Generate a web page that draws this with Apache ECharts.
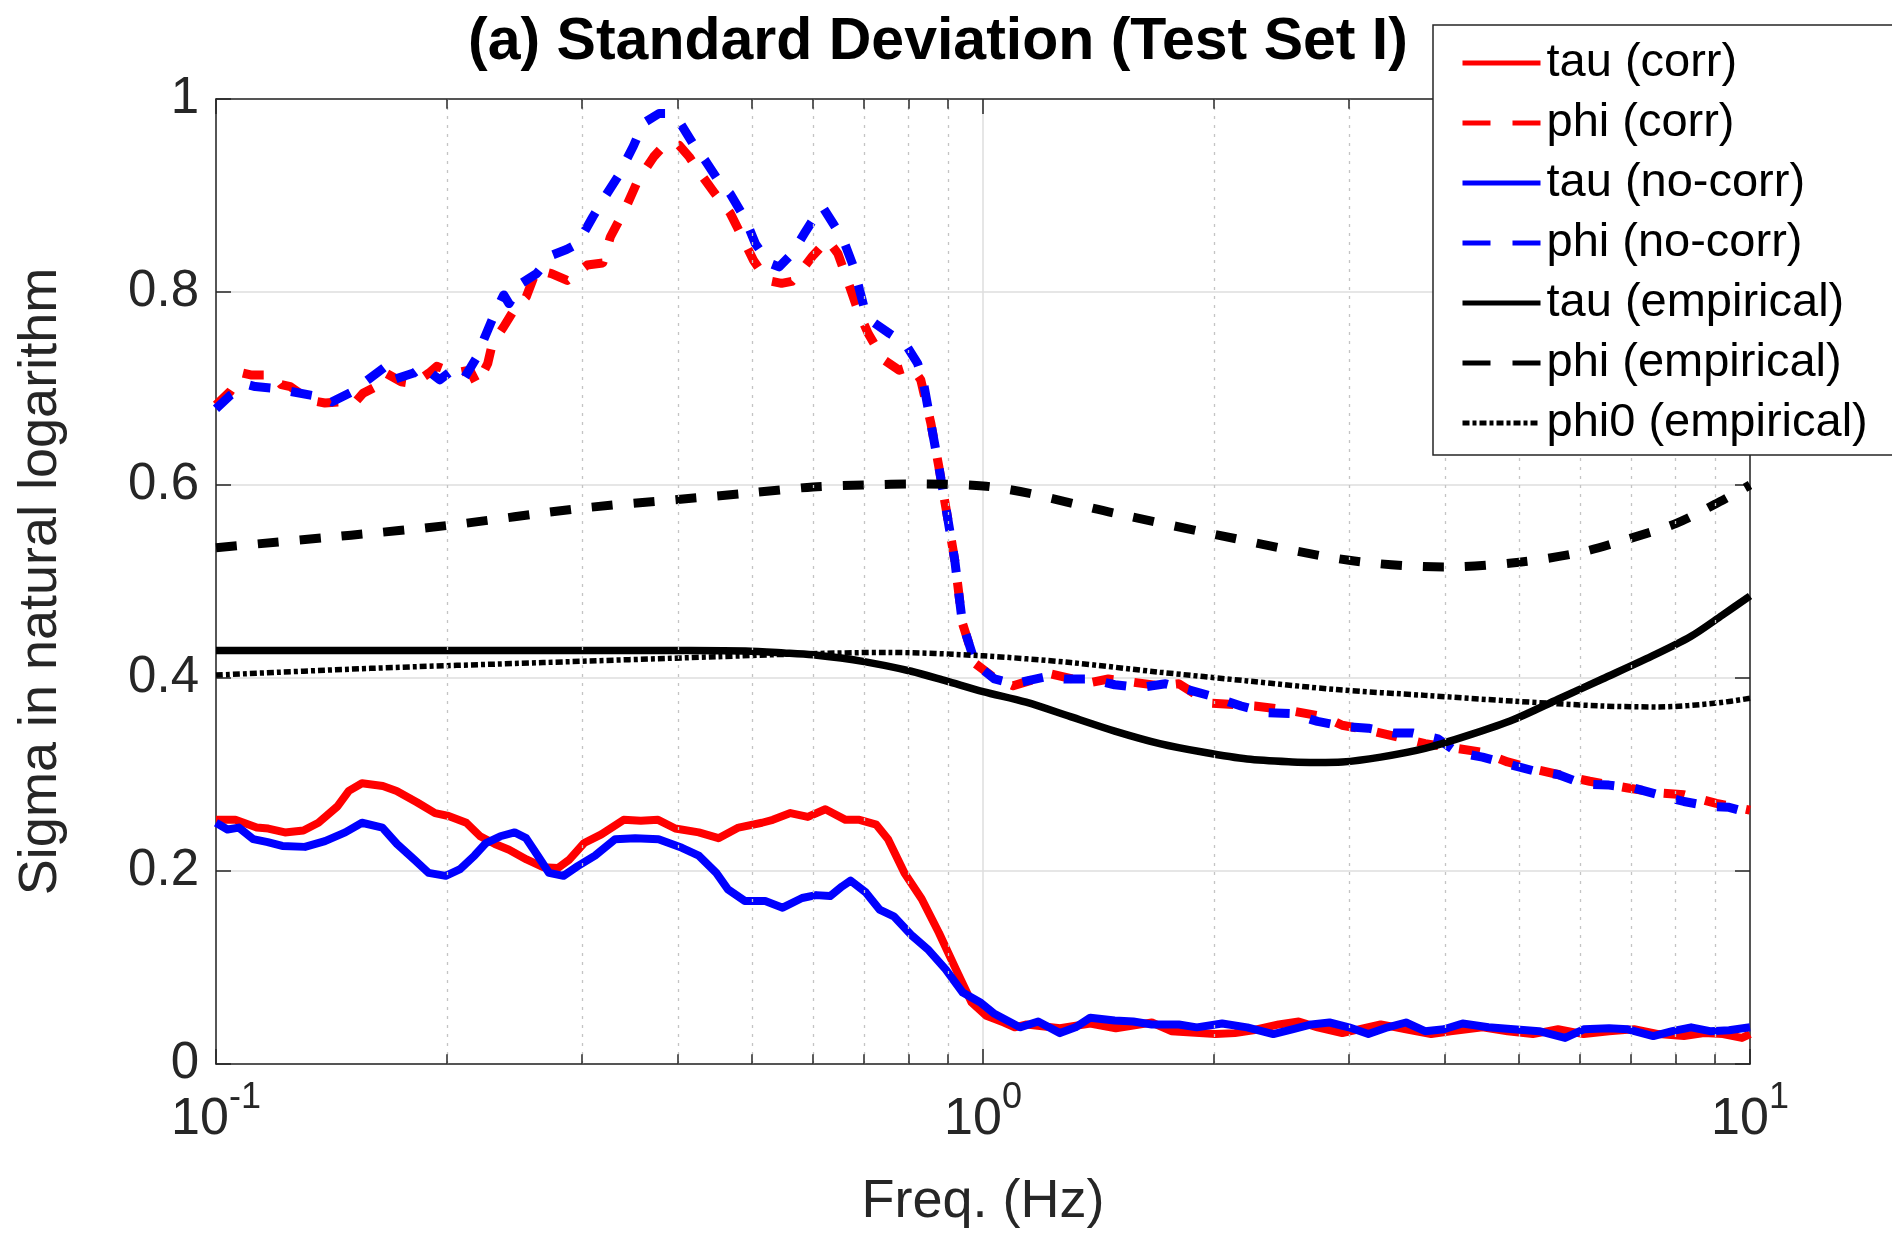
<!DOCTYPE html>
<html><head><meta charset="utf-8">
<script src="https://cdn.jsdelivr.net/npm/echarts@6/dist/echarts.min.js"></script>
<style>html,body{margin:0;padding:0;background:#fff}#c{width:1892px;height:1236px}</style>
</head><body><div id="c"></div>
<script>
// ---------- data ----------
const titleText = '(a) Standard Deviation (Test Set I)';
const xName = 'Freq. (Hz)';
const yName = 'Sigma in natural logarithm';
const xMinorTicks = [0.2, 0.3, 0.4, 0.5, 0.6, 0.7, 0.8, 0.9, 2, 3, 4, 5, 6, 7, 8, 9];
const seriesNames = ['tau (corr)', 'phi (corr)', 'tau (no-corr)', 'phi (no-corr)', 'tau (empirical)', 'phi (empirical)', 'phi0 (empirical)'];

const tauCorr = [[0.1,0.253],[0.106,0.253],[0.113,0.245],[0.117,0.244],[0.123,0.240],[0.130,0.242],[0.136,0.250],[0.144,0.267],[0.149,0.283],[0.155,0.291],[0.165,0.288],[0.172,0.283],[0.183,0.271],[0.193,0.260],[0.201,0.257],[0.212,0.250],[0.221,0.236],[0.231,0.228],[0.241,0.222],[0.254,0.212],[0.267,0.204],[0.279,0.203],[0.289,0.212],[0.302,0.229],[0.318,0.238],[0.340,0.253],[0.358,0.252],[0.377,0.253],[0.397,0.244],[0.426,0.240],[0.452,0.234],[0.480,0.245],[0.515,0.250],[0.532,0.253],[0.561,0.260],[0.591,0.256],[0.623,0.264],[0.662,0.253],[0.690,0.253],[0.726,0.248],[0.752,0.233],[0.790,0.198],[0.832,0.171],[0.876,0.136],[0.922,0.098],[0.966,0.064],[1.01,0.050],[1.065,0.043],[1.10,0.038],[1.14,0.041],[1.26,0.037],[1.38,0.042],[1.49,0.037],[1.66,0.043],[1.76,0.034],[2.01,0.031],[2.13,0.032],[2.25,0.035],[2.43,0.041],[2.58,0.044],[2.73,0.038],[2.94,0.032],[3.3,0.041],[3.56,0.036],[3.84,0.031],[4.07,0.034],[4.48,0.038],[4.83,0.034],[5.21,0.031],[5.62,0.036],[6.07,0.031],[6.55,0.034],[7.06,0.036],[7.6,0.031],[8.2,0.029],[8.71,0.032],[9.22,0.031],[9.76,0.027],[10,0.031]];

const phiCorr = [[0.1,0.683],[0.1044,0.697],[0.1084,0.716],[0.111,0.714],[0.119,0.714],[0.1217,0.704],[0.125,0.702],[0.1324,0.688],[0.1387,0.685],[0.1446,0.686],[0.1508,0.683],[0.1555,0.695],[0.1616,0.702],[0.1665,0.716],[0.1744,0.707],[0.181,0.705],[0.1895,0.716],[0.194,0.723],[0.2048,0.716],[0.2143,0.719],[0.219,0.704],[0.2261,0.726],[0.2293,0.747],[0.2372,0.764],[0.2445,0.781],[0.2538,0.795],[0.2618,0.823],[0.2738,0.819],[0.287,0.812],[0.3048,0.828],[0.3193,0.830],[0.3267,0.857],[0.3425,0.888],[0.355,0.916],[0.372,0.940],[0.386,0.954],[0.4016,0.952],[0.414,0.940],[0.4306,0.920],[0.4472,0.902],[0.468,0.882],[0.4824,0.861],[0.502,0.833],[0.5227,0.812],[0.5462,0.809],[0.5632,0.811],[0.5809,0.823],[0.5992,0.837],[0.6268,0.854],[0.6467,0.840],[0.6659,0.812],[0.6868,0.781],[0.7085,0.757],[0.7416,0.730],[0.7776,0.719],[0.8062,0.723],[0.8295,0.709],[0.8551,0.664],[0.8758,0.619],[0.897,0.571],[0.9187,0.522],[0.94,0.457],[0.977,0.415],[1.035,0.400],[1.095,0.392],[1.228,0.404],[1.376,0.395],[1.457,0.399],[1.70,0.392],[1.80,0.394],[1.975,0.374],[2.26,0.371],[2.48,0.367],[2.78,0.360],[2.94,0.351],[3.18,0.346],[3.77,0.332],[4.15,0.327],[4.48,0.323],[4.83,0.313],[5.21,0.306],[5.62,0.300],[6.18,0.293],[6.93,0.286],[7.6,0.281],[8.2,0.279],[9.04,0.270],[10,0.263]];

const tauNoCorr = [[0.1,0.250],[0.1035,0.243],[0.1071,0.245],[0.1118,0.233],[0.1168,0.230],[0.122,0.226],[0.1306,0.225],[0.1387,0.231],[0.1474,0.240],[0.155,0.250],[0.1648,0.245],[0.1722,0.228],[0.1813,0.212],[0.1893,0.198],[0.1993,0.195],[0.2081,0.202],[0.2173,0.216],[0.2249,0.229],[0.2348,0.236],[0.2451,0.240],[0.2537,0.234],[0.2626,0.216],[0.2718,0.198],[0.2838,0.195],[0.2962,0.205],[0.312,0.216],[0.3315,0.233],[0.352,0.234],[0.3776,0.233],[0.405,0.224],[0.426,0.216],[0.449,0.198],[0.465,0.181],[0.489,0.169],[0.52,0.169],[0.548,0.162],[0.581,0.172],[0.606,0.175],[0.632,0.174],[0.655,0.184],[0.672,0.190],[0.703,0.178],[0.733,0.160],[0.765,0.153],[0.808,0.133],[0.847,0.119],[0.894,0.098],[0.941,0.074],[0.991,0.064],[1.035,0.052],[1.117,0.038],[1.18,0.044],[1.26,0.032],[1.32,0.038],[1.38,0.048],[1.485,0.045],[1.57,0.044],[1.66,0.041],[1.8,0.041],[1.9,0.038],[2.05,0.042],[2.21,0.038],[2.39,0.031],[2.53,0.036],[2.68,0.041],[2.83,0.043],[3.0,0.038],[3.18,0.031],[3.37,0.038],[3.56,0.043],[3.77,0.034],[3.99,0.036],[4.22,0.042],[4.56,0.038],[4.92,0.036],[5.31,0.034],[5.74,0.027],[6.07,0.036],[6.55,0.037],[6.93,0.036],[7.48,0.029],[7.92,0.034],[8.38,0.038],[8.87,0.034],[9.39,0.035],[10,0.038]];

const phiNoCorr = [[0.1,0.679],[0.1044,0.693],[0.1101,0.704],[0.1125,0.702],[0.1198,0.700],[0.125,0.697],[0.1374,0.691],[0.1415,0.686],[0.1508,0.697],[0.1565,0.707],[0.1665,0.723],[0.170,0.709],[0.181,0.716],[0.186,0.723],[0.1957,0.709],[0.2048,0.721],[0.2111,0.712],[0.219,0.733],[0.2243,0.754],[0.231,0.778],[0.2372,0.797],[0.241,0.788],[0.2501,0.809],[0.2618,0.819],[0.2738,0.838],[0.2864,0.844],[0.2961,0.850],[0.31,0.878],[0.3193,0.895],[0.3344,0.920],[0.35,0.951],[0.3607,0.975],[0.3781,0.985],[0.39,0.985],[0.4016,0.977],[0.4206,0.951],[0.4337,0.937],[0.454,0.913],[0.468,0.902],[0.4903,0.875],[0.505,0.850],[0.526,0.830],[0.5422,0.826],[0.564,0.840],[0.5852,0.861],[0.6038,0.878],[0.6181,0.888],[0.6376,0.871],[0.6575,0.854],[0.6781,0.826],[0.6993,0.785],[0.7212,0.768],[0.7552,0.757],[0.7909,0.747],[0.8217,0.726],[0.8349,0.709],[0.8551,0.664],[0.8758,0.619],[0.897,0.571],[0.9187,0.522],[0.94,0.457],[0.977,0.415],[1.035,0.399],[1.095,0.394],[1.205,0.401],[1.276,0.399],[1.376,0.399],[1.485,0.393],[1.6,0.390],[1.73,0.394],[1.87,0.387],[2.01,0.380],[2.17,0.371],[2.34,0.364],[2.53,0.363],[2.73,0.355],[2.94,0.350],[3.18,0.348],[3.43,0.343],[3.63,0.343],[3.92,0.337],[4.15,0.323],[4.48,0.318],[4.83,0.311],[5.21,0.304],[5.62,0.300],[6.07,0.290],[6.55,0.289],[7.06,0.286],[7.6,0.279],[8.2,0.272],[8.87,0.267],[9.39,0.266],[10,0.260]];

const tauEmp = [[0.1,0.4286],[0.2,0.4286],[0.3,0.4286],[0.4,0.4285],[0.49,0.428],[0.55,0.426],[0.6,0.424],[0.7,0.417],[0.806,0.407],[0.895,0.397],[1.0,0.386],[1.138,0.375],[1.3,0.360],[1.485,0.345],[1.7,0.332],[1.94,0.323],[2.21,0.316],[2.53,0.313],[2.73,0.3125],[2.94,0.313],[3.3,0.318],[3.77,0.327],[4.31,0.341],[4.92,0.357],[5.62,0.378],[6.42,0.399],[7.33,0.420],[8.37,0.443],[9.2,0.465],[10,0.485]];

const phiEmp = [[0.1,0.535],[0.15,0.548],[0.2,0.558],[0.3,0.576],[0.4,0.585],[0.5,0.592],[0.6,0.598],[0.7,0.600],[0.8,0.601],[1.0,0.599],[1.5,0.570],[2,0.549],[3,0.522],[4,0.515],[5,0.520],[6,0.530],[7,0.545],[8,0.560],[9,0.580],[10,0.600]];

const phi0Emp = [[0.1,0.403],[0.159,0.410],[0.267,0.416],[0.448,0.422],[0.58,0.425],[0.75,0.4265],[1.0,0.423],[1.3,0.416],[1.7,0.406],[2.21,0.397],[2.89,0.388],[3.77,0.382],[4.92,0.376],[6.42,0.371],[7.6,0.370],[9.04,0.374],[10,0.379]];

// ---------- styling ----------
const FONT = "'Liberation Sans', Arial, Helvetica, sans-serif";
const AX = '#262626';
const RED = '#ff0000', BLUE = '#0000ff', BLACK = '#000000';
const DASH = [21, 21];
const DASHDOT = [7, 3, 4, 3];

function line(name, data, color, width, type, smooth) {
  return {
    name, type: 'line', data, xAxisIndex: 0, yAxisIndex: 0,
    symbol: 'none', showSymbol: false, smooth: smooth || false,
    lineStyle: { color, width, type, cap: 'butt', join: 'round' },
    itemStyle: { color },
    emphasis: { disabled: true }, silent: true, z: 3
  };
}

const chart = echarts.init(document.getElementById('c'), null, { renderer: 'canvas' });

const option = {
  animation: false,
  backgroundColor: '#ffffff',
  textStyle: { fontFamily: FONT },
  grid: { left: 216, right: 142, top: 99, bottom: 172, containLabel: false },
  graphic: [{
    type: 'text', x: 938, y: 43, z: 100,
    style: { text: titleText, font: 'bold 59px ' + FONT, fill: '#000', textAlign: 'center', textVerticalAlign: 'middle' }
  }],
  xAxis: [{
    type: 'log', logBase: 10, min: 0.1, max: 10, position: 'bottom',
    name: xName, nameLocation: 'middle', nameGap: 111,
    nameTextStyle: { fontSize: 54, color: AX, fontFamily: FONT },
    axisLine: { show: true, onZero: false, lineStyle: { color: AX, width: 1.5 } },
    axisTick: { show: true, inside: true, length: 15, lineStyle: { color: AX, width: 1.5 } },
    axisLabel: {
      margin: 24, color: AX,
      formatter: v => '{b|10}{s|' + Math.round(Math.log10(v)) + '}',
      rich: {
        b: { fontSize: 52, fontFamily: FONT, color: AX, lineHeight: 58, verticalAlign: 'bottom' },
        s: { fontSize: 36, fontFamily: FONT, color: AX, lineHeight: 36, verticalAlign: 'bottom', padding: [0, 0, 30, 0] }
      }
    },
    splitLine: { show: true, lineStyle: { color: '#dedede', width: 1.5 } }
  }, {
    type: 'log', logBase: 10, min: 0.1, max: 10, position: 'top',
    axisLine: { show: true, onZero: false, lineStyle: { color: AX, width: 1.5 } },
    axisTick: { show: true, inside: true, length: 15, lineStyle: { color: AX, width: 1.5 } },
    axisLabel: { show: false }, splitLine: { show: false }
  }],
  yAxis: [{
    type: 'value', min: 0, max: 1, interval: 0.2, position: 'left',
    name: yName, nameLocation: 'middle', nameGap: 148,
    nameTextStyle: { fontSize: 54, color: AX, fontFamily: FONT },
    axisLine: { show: true, onZero: false, lineStyle: { color: AX, width: 1.5 } },
    axisTick: { show: true, inside: true, length: 15, lineStyle: { color: AX, width: 1.5 } },
    axisLabel: { fontSize: 51, color: AX, margin: 17, fontFamily: FONT },
    splitLine: { show: true, lineStyle: { color: '#dedede', width: 1.5 } }
  }, {
    type: 'value', min: 0, max: 1, interval: 0.2, position: 'right',
    axisLine: { show: true, onZero: false, lineStyle: { color: AX, width: 1.5 } },
    axisTick: { show: true, inside: true, length: 15, lineStyle: { color: AX, width: 1.5 } },
    axisLabel: { show: false }, splitLine: { show: false }
  }],
  legend: {
    data: seriesNames.map((n, i) => ({
      name: n,
      lineStyle: (i === 1 || i === 3 || i === 5) ? { type: [28, 22] } : undefined
    })),
    orient: 'vertical', left: 1433, top: 25,
    padding: [8, 29, 2, 27], itemGap: 0,
    itemWidth: 78, itemHeight: 2,
    backgroundColor: '#ffffff', borderColor: AX, borderWidth: 1.5, borderRadius: 0,
    lineStyle: { width: 5 },
    itemStyle: { opacity: 0 },
    textStyle: { fontSize: 47, fontFamily: FONT, color: '#000', lineHeight: 60, padding: [0, 0, 0, 1] },
    selectedMode: false, z: 50
  },
  series: [
    {
      type: 'line', data: [], z: 1, silent: true,
      markLine: {
        silent: true, symbol: ['none', 'none'], label: { show: false }, animation: false,
        lineStyle: { color: '#c4c4c4', width: 1.3, type: [3, 6] },
        data: xMinorTicks.map(v => ({ xAxis: v }))
      }
    },
    {
      type: 'line', data: [], z: 1, silent: true,
      markLine: {
        silent: true, symbol: ['none', 'none'], label: { show: false }, animation: false,
        lineStyle: { color: AX, width: 1.5, type: 'solid' },
        data: xMinorTicks.map(v => [{ coord: [v, 0] }, { coord: [v, 0.01] }])
          .concat(xMinorTicks.map(v => [{ coord: [v, 1] }, { coord: [v, 0.99] }]))
      }
    },
    line(seriesNames[0], tauCorr, RED, 8, 'solid'),
    line(seriesNames[1], phiCorr, RED, 9, DASH),
    line(seriesNames[2], tauNoCorr, BLUE, 8, 'solid'),
    line(seriesNames[3], phiNoCorr, BLUE, 9, DASH),
    line(seriesNames[4], tauEmp, BLACK, 7.5, 'solid', 0.3),
    line(seriesNames[5], phiEmp, BLACK, 9, DASH, 0.3),
    line(seriesNames[6], phi0Emp, BLACK, 5.5, DASHDOT, 0.3)
  ]
};
chart.setOption(option);
</script>
</body></html>
